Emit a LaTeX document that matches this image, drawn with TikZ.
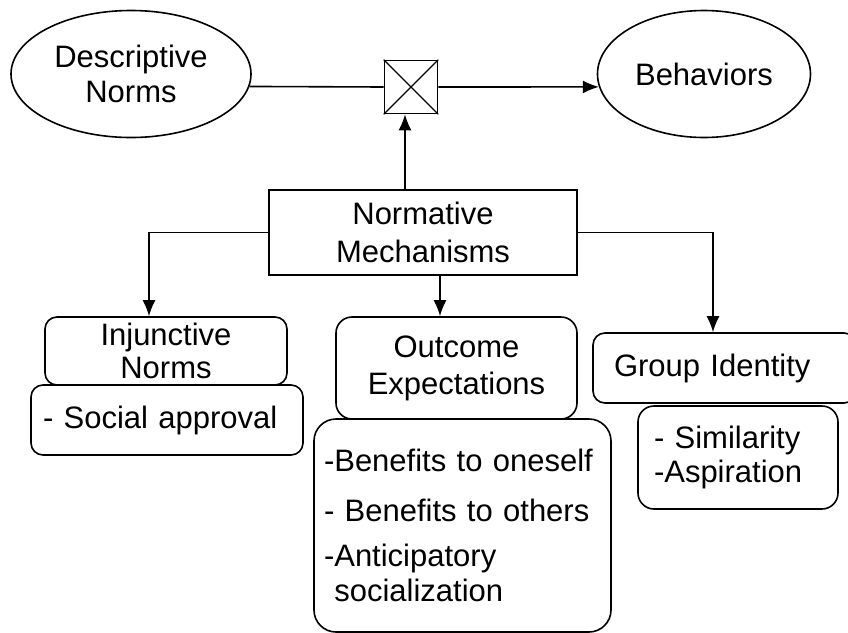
\documentclass[tikz,border=0pt]{standalone}
\usepackage{fontspec}
\setmainfont{Liberation Sans}
\usetikzlibrary{shapes.geometric,arrows.meta}
\tikzset{
  concept/.style={draw,ellipse,line width=0.8pt,inner sep=0pt,align=center},
  mechbox/.style={draw,rectangle,line width=0.8pt,inner sep=0pt,align=center},
  factorbox/.style={draw,rectangle,rounded corners=6pt,line width=0.8pt,inner sep=0pt,align=center},
  itembox/.style={draw,rectangle,rounded corners=6pt,line width=0.8pt,inner ysep=0pt,align=left},
  link/.style={->,line width=0.8pt}
}
\begin{document}
\begin{tikzpicture}[x=0.5pt,y=-0.5pt,>={Latex[length=8pt,width=6.5pt]},font=\fontsize{15.5}{17.5}\selectfont]
  \useasboundingbox (0,0) rectangle (848,633);
  % Top row: norms, moderator, behaviors
  \node[concept,minimum width=120pt,minimum height=63.5pt] (desc) at (131,74) {Descriptive\\Norms};
  \node[concept,minimum width=106.5pt,minimum height=63.5pt] (behav) at (704,74) {Behaviors};
  \node[mechbox,minimum size=26.5pt] (cross) at (411,87) {};
  \draw[line width=0.6pt] (cross.north west) -- (cross.south east);
  \draw[line width=0.6pt] (cross.south west) -- (cross.north east);
  % Mechanisms box
  \node[mechbox,minimum width=154pt,minimum height=42.5pt,font=\fontsize{15.5}{19}\selectfont] (nm) at (423,232.5) {Normative\\Mechanisms};
  % Three mechanisms
  \node[factorbox,minimum width=121pt,minimum height=34pt,font=\fontsize{15.5}{16.5}\selectfont] (inj) at (166,351) {Injunctive\\Norms};
  \node[itembox,inner xsep=6pt,text width=124pt,minimum height=35pt] (social) at (167,420) {- Social approval};
  \node[factorbox,rounded corners=8pt,minimum width=120.5pt,minimum height=51pt,font=\fontsize{15.5}{18.5}\selectfont] (out) at (456.5,368) {Outcome\\Expectations};
  \node[itembox,rounded corners=11pt,inner xsep=5pt,text width=138.5pt,minimum height=106.5pt] (benef) at (462.5,525.5)
    {-Benefits to oneself\\[7.5pt]- Benefits to others\\[5pt]-Anticipatory\\\phantom{-}socialization};
  \node[itembox,inner xsep=10.5pt,text width=110.5pt,minimum height=35pt] (grp) at (724.5,368) {Group Identity};
  \node[itembox,rounded corners=8pt,inner xsep=8pt,text width=84pt,minimum height=51.5pt,font=\fontsize{15.5}{17}\selectfont] (sim) at (738,457.5) {- Similarity\\-Aspiration};
  % Connectors
  \draw[line width=0.8pt] (desc.-6.32) -- (cross.west);
  \draw[link] (cross.east) -- (behav.187.1);
  \draw[link] ([xshift=-3pt]cross.south |- nm.north) -- ([xshift=-3pt]cross.south);
  \draw[link] (nm.west) -| ([xshift=-8.5pt]inj.north);
  \draw[link] ([xshift=8.5pt]nm.south) -- ([xshift=8.5pt]nm.south |- out.north);
  \draw[link] (nm.east) -| ([xshift=-5.75pt]grp.north);
\end{tikzpicture}
\end{document}
